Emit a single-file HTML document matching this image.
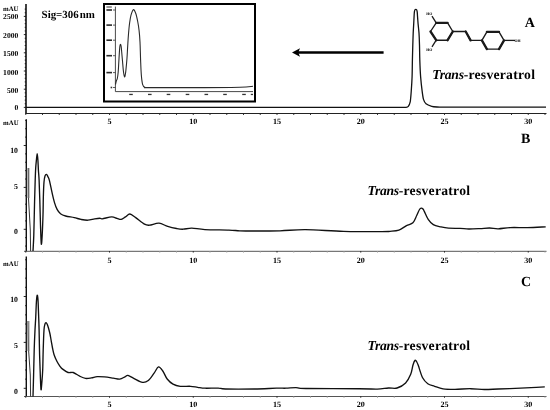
<!DOCTYPE html>
<html><head><meta charset="utf-8"><title>HPLC chromatograms</title>
<style>
html,body{margin:0;padding:0;background:#fff;}
body{width:550px;height:410px;overflow:hidden;font-family:"Liberation Serif",serif;}
svg{display:block;filter:grayscale(1);}
</style></head>
<body>
<svg width="550" height="410" viewBox="0 0 550 410" text-rendering="geometricPrecision">
<rect width="550" height="410" fill="#fff"/>
<line x1="26" y1="4" x2="26" y2="113.5" stroke="#111" stroke-width="1.6"/>
<line x1="23.80" y1="107.40" x2="26" y2="107.40" stroke="#111" stroke-width="0.9"/>
<line x1="24.70" y1="103.76" x2="26" y2="103.76" stroke="#111" stroke-width="0.9"/>
<line x1="24.70" y1="100.12" x2="26" y2="100.12" stroke="#111" stroke-width="0.9"/>
<line x1="24.70" y1="96.48" x2="26" y2="96.48" stroke="#111" stroke-width="0.9"/>
<line x1="24.70" y1="92.84" x2="26" y2="92.84" stroke="#111" stroke-width="0.9"/>
<line x1="23.80" y1="89.20" x2="26" y2="89.20" stroke="#111" stroke-width="0.9"/>
<line x1="24.70" y1="85.56" x2="26" y2="85.56" stroke="#111" stroke-width="0.9"/>
<line x1="24.70" y1="81.92" x2="26" y2="81.92" stroke="#111" stroke-width="0.9"/>
<line x1="24.70" y1="78.28" x2="26" y2="78.28" stroke="#111" stroke-width="0.9"/>
<line x1="24.70" y1="74.64" x2="26" y2="74.64" stroke="#111" stroke-width="0.9"/>
<line x1="23.80" y1="71.00" x2="26" y2="71.00" stroke="#111" stroke-width="0.9"/>
<line x1="24.70" y1="67.36" x2="26" y2="67.36" stroke="#111" stroke-width="0.9"/>
<line x1="24.70" y1="63.72" x2="26" y2="63.72" stroke="#111" stroke-width="0.9"/>
<line x1="24.70" y1="60.08" x2="26" y2="60.08" stroke="#111" stroke-width="0.9"/>
<line x1="24.70" y1="56.44" x2="26" y2="56.44" stroke="#111" stroke-width="0.9"/>
<line x1="23.80" y1="52.80" x2="26" y2="52.80" stroke="#111" stroke-width="0.9"/>
<line x1="24.70" y1="49.16" x2="26" y2="49.16" stroke="#111" stroke-width="0.9"/>
<line x1="24.70" y1="45.52" x2="26" y2="45.52" stroke="#111" stroke-width="0.9"/>
<line x1="24.70" y1="41.88" x2="26" y2="41.88" stroke="#111" stroke-width="0.9"/>
<line x1="24.70" y1="38.24" x2="26" y2="38.24" stroke="#111" stroke-width="0.9"/>
<line x1="23.80" y1="34.60" x2="26" y2="34.60" stroke="#111" stroke-width="0.9"/>
<line x1="24.70" y1="30.96" x2="26" y2="30.96" stroke="#111" stroke-width="0.9"/>
<line x1="24.70" y1="27.32" x2="26" y2="27.32" stroke="#111" stroke-width="0.9"/>
<line x1="24.70" y1="23.68" x2="26" y2="23.68" stroke="#111" stroke-width="0.9"/>
<line x1="24.70" y1="20.04" x2="26" y2="20.04" stroke="#111" stroke-width="0.9"/>
<line x1="23.80" y1="16.40" x2="26" y2="16.40" stroke="#111" stroke-width="0.9"/>
<line x1="24.70" y1="12.76" x2="26" y2="12.76" stroke="#111" stroke-width="0.9"/>
<line x1="24.70" y1="9.12" x2="26" y2="9.12" stroke="#111" stroke-width="0.9"/>
<line x1="25.2" y1="113.5" x2="546.5" y2="113.5" stroke="#222" stroke-width="1.1"/>
<line x1="25.75" y1="113.5" x2="25.75" y2="115" stroke="#222" stroke-width="0.9"/>
<line x1="42.50" y1="113.5" x2="42.50" y2="115" stroke="#222" stroke-width="0.9"/>
<line x1="59.25" y1="113.5" x2="59.25" y2="115" stroke="#222" stroke-width="0.9"/>
<line x1="76.00" y1="113.5" x2="76.00" y2="115" stroke="#222" stroke-width="0.9"/>
<line x1="92.75" y1="113.5" x2="92.75" y2="115" stroke="#222" stroke-width="0.9"/>
<line x1="109.50" y1="113.5" x2="109.50" y2="115" stroke="#222" stroke-width="0.9"/>
<line x1="126.25" y1="113.5" x2="126.25" y2="115" stroke="#222" stroke-width="0.9"/>
<line x1="143.00" y1="113.5" x2="143.00" y2="115" stroke="#222" stroke-width="0.9"/>
<line x1="159.75" y1="113.5" x2="159.75" y2="115" stroke="#222" stroke-width="0.9"/>
<line x1="176.50" y1="113.5" x2="176.50" y2="115" stroke="#222" stroke-width="0.9"/>
<line x1="193.25" y1="113.5" x2="193.25" y2="115" stroke="#222" stroke-width="0.9"/>
<line x1="210.00" y1="113.5" x2="210.00" y2="115" stroke="#222" stroke-width="0.9"/>
<line x1="226.75" y1="113.5" x2="226.75" y2="115" stroke="#222" stroke-width="0.9"/>
<line x1="243.50" y1="113.5" x2="243.50" y2="115" stroke="#222" stroke-width="0.9"/>
<line x1="260.25" y1="113.5" x2="260.25" y2="115" stroke="#222" stroke-width="0.9"/>
<line x1="277.00" y1="113.5" x2="277.00" y2="115" stroke="#222" stroke-width="0.9"/>
<line x1="293.75" y1="113.5" x2="293.75" y2="115" stroke="#222" stroke-width="0.9"/>
<line x1="310.50" y1="113.5" x2="310.50" y2="115" stroke="#222" stroke-width="0.9"/>
<line x1="327.25" y1="113.5" x2="327.25" y2="115" stroke="#222" stroke-width="0.9"/>
<line x1="344.00" y1="113.5" x2="344.00" y2="115" stroke="#222" stroke-width="0.9"/>
<line x1="360.75" y1="113.5" x2="360.75" y2="115" stroke="#222" stroke-width="0.9"/>
<line x1="377.50" y1="113.5" x2="377.50" y2="115" stroke="#222" stroke-width="0.9"/>
<line x1="394.25" y1="113.5" x2="394.25" y2="115" stroke="#222" stroke-width="0.9"/>
<line x1="411.00" y1="113.5" x2="411.00" y2="115" stroke="#222" stroke-width="0.9"/>
<line x1="427.75" y1="113.5" x2="427.75" y2="115" stroke="#222" stroke-width="0.9"/>
<line x1="444.50" y1="113.5" x2="444.50" y2="115" stroke="#222" stroke-width="0.9"/>
<line x1="461.25" y1="113.5" x2="461.25" y2="115" stroke="#222" stroke-width="0.9"/>
<line x1="478.00" y1="113.5" x2="478.00" y2="115" stroke="#222" stroke-width="0.9"/>
<line x1="494.75" y1="113.5" x2="494.75" y2="115" stroke="#222" stroke-width="0.9"/>
<line x1="511.50" y1="113.5" x2="511.50" y2="115" stroke="#222" stroke-width="0.9"/>
<line x1="528.25" y1="113.5" x2="528.25" y2="115" stroke="#222" stroke-width="0.9"/>
<line x1="545.00" y1="113.5" x2="545.00" y2="115" stroke="#222" stroke-width="0.9"/>
<text x="18.5" y="10.9" font-family="Liberation Serif" font-weight="bold" font-size="6.8" text-anchor="end">mAU</text>
<text x="18.3" y="19.2" font-family="Liberation Serif" font-weight="bold" font-size="7.6" text-anchor="end">2500</text>
<text x="18.3" y="38.1" font-family="Liberation Serif" font-weight="bold" font-size="7.6" text-anchor="end">2000</text>
<text x="18.3" y="56.0" font-family="Liberation Serif" font-weight="bold" font-size="7.6" text-anchor="end">1500</text>
<text x="18.3" y="74.5" font-family="Liberation Serif" font-weight="bold" font-size="7.6" text-anchor="end">1000</text>
<text x="18.3" y="93.1" font-family="Liberation Serif" font-weight="bold" font-size="7.6" text-anchor="end">500</text>
<text x="18.3" y="110.2" font-family="Liberation Serif" font-weight="bold" font-size="7.6" text-anchor="end">0</text>
<text x="109.50" y="123.8" font-family="Liberation Serif" font-weight="bold" font-size="8.1" text-anchor="middle">5</text>
<text x="193.25" y="123.8" font-family="Liberation Serif" font-weight="bold" font-size="8.1" text-anchor="middle">10</text>
<text x="277.00" y="123.8" font-family="Liberation Serif" font-weight="bold" font-size="8.1" text-anchor="middle">15</text>
<text x="360.75" y="123.8" font-family="Liberation Serif" font-weight="bold" font-size="8.1" text-anchor="middle">20</text>
<text x="444.50" y="123.8" font-family="Liberation Serif" font-weight="bold" font-size="8.1" text-anchor="middle">25</text>
<text x="528.25" y="123.8" font-family="Liberation Serif" font-weight="bold" font-size="8.1" text-anchor="middle">30</text>
<path d="M26.00,107.40 C57.97,107.40 258.70,107.40 300.00,107.40 C341.30,107.40 368.80,107.40 380.00,107.40 C391.20,107.40 393.32,107.40 396.00,107.40 C398.68,107.40 401.83,107.41 403.00,107.40 C404.17,107.39 405.38,107.43 406.00,107.30 C406.62,107.17 407.81,106.93 408.30,106.30 C408.79,105.67 409.86,103.60 410.20,101.90 C410.54,100.20 410.98,94.66 411.20,91.70 C411.42,88.74 411.96,80.20 412.10,76.50 C412.24,72.80 412.32,63.67 412.40,60.00 C412.48,56.33 412.71,48.15 412.80,45.00 C412.89,41.85 413.09,35.45 413.20,33.00 C413.31,30.55 413.59,25.98 413.70,24.00 C413.81,22.02 414.02,17.42 414.10,16.00 C414.18,14.58 414.29,12.52 414.40,11.80 C414.50,11.08 414.84,10.09 415.00,9.80 C415.16,9.51 415.61,9.30 415.80,9.30 C415.99,9.30 416.44,9.51 416.60,9.80 C416.76,10.09 417.09,11.08 417.20,11.80 C417.31,12.52 417.39,14.58 417.50,16.00 C417.61,17.42 417.93,22.02 418.10,24.00 C418.28,25.98 418.84,30.55 419.00,33.00 C419.16,35.45 419.41,41.85 419.50,45.00 C419.59,48.15 419.67,56.33 419.80,60.00 C419.93,63.67 420.32,72.80 420.60,76.50 C420.88,80.20 421.86,89.03 422.20,91.70 C422.54,94.37 423.06,97.99 423.50,99.40 C423.94,100.81 425.04,103.00 426.00,103.80 C426.96,104.60 430.42,105.93 431.70,106.30 C432.98,106.67 435.56,106.89 437.00,107.00 C438.44,107.11 441.32,107.18 444.00,107.20 C446.68,107.22 448.10,107.20 460.00,107.20 C471.90,107.20 535.97,107.20 546.00,107.20" fill="none" stroke="#111" stroke-width="1.3"/>
<rect x="104" y="4" width="151" height="97.5" fill="none" stroke="#000" stroke-width="2"/>
<line x1="115.4" y1="6.6" x2="115.4" y2="91.6" stroke="#333" stroke-width="0.9"/>
<line x1="115.4" y1="91.6" x2="253" y2="91.6" stroke="#333" stroke-width="0.9"/>
<line x1="113" y1="87.50" x2="115.4" y2="87.50" stroke="#333" stroke-width="0.8"/>
<rect x="110.6" y="86.70" width="1.6" height="1.6" fill="#333"/>
<line x1="113" y1="72.60" x2="115.4" y2="72.60" stroke="#333" stroke-width="0.8"/>
<rect x="106.4" y="71.80" width="5.6" height="1.6" fill="#2a2a2a"/>
<line x1="113" y1="55.70" x2="115.4" y2="55.70" stroke="#333" stroke-width="0.8"/>
<rect x="106.4" y="54.90" width="5.6" height="1.6" fill="#2a2a2a"/>
<line x1="113" y1="40.20" x2="115.4" y2="40.20" stroke="#333" stroke-width="0.8"/>
<rect x="106.4" y="39.40" width="5.6" height="1.6" fill="#2a2a2a"/>
<line x1="113" y1="25.10" x2="115.4" y2="25.10" stroke="#333" stroke-width="0.8"/>
<rect x="106.4" y="24.30" width="5.6" height="1.6" fill="#2a2a2a"/>
<line x1="113" y1="10.00" x2="115.4" y2="10.00" stroke="#333" stroke-width="0.8"/>
<rect x="106.4" y="9.20" width="5.6" height="1.6" fill="#2a2a2a"/>
<rect x="106.4" y="6.4" width="5.4" height="1.2" fill="#555"/>
<rect x="129.20" y="93.8" width="3.6" height="1.3" fill="#333"/>
<rect x="148.00" y="93.8" width="3.6" height="1.3" fill="#333"/>
<rect x="166.70" y="93.8" width="3.6" height="1.3" fill="#333"/>
<rect x="185.70" y="93.8" width="3.6" height="1.3" fill="#333"/>
<rect x="204.50" y="93.8" width="3.6" height="1.3" fill="#333"/>
<rect x="223.20" y="93.8" width="3.6" height="1.3" fill="#333"/>
<rect x="242.20" y="93.8" width="3.6" height="1.3" fill="#333"/>
<rect x="250.8" y="93.8" width="2.2" height="1.3" fill="#333"/>
<path d="M115.50,84.50 C115.63,83.92 116.00,82.00 116.30,81.00 C116.60,80.00 116.98,80.00 117.30,78.50 C117.62,77.00 117.95,74.75 118.20,72.00 C118.45,69.25 118.60,65.33 118.80,62.00 C119.00,58.67 119.22,54.67 119.40,52.00 C119.58,49.33 119.72,47.30 119.90,46.00 C120.08,44.70 120.30,44.20 120.50,44.20 C120.70,44.20 120.90,44.70 121.10,46.00 C121.30,47.30 121.47,49.50 121.70,52.00 C121.93,54.50 122.22,57.83 122.50,61.00 C122.78,64.17 123.07,68.37 123.40,71.00 C123.73,73.63 124.18,76.22 124.50,76.80 C124.82,77.38 125.07,75.60 125.30,74.50 C125.53,73.40 125.62,72.95 125.90,70.20 C126.18,67.45 126.70,62.03 127.00,58.00 C127.30,53.97 127.45,50.00 127.70,46.00 C127.95,42.00 128.18,37.83 128.50,34.00 C128.82,30.17 129.18,26.13 129.60,23.00 C130.02,19.87 130.38,17.42 131.00,15.20 C131.62,12.98 132.52,10.03 133.30,9.70 C134.08,9.37 134.97,11.23 135.70,13.20 C136.43,15.17 137.13,18.60 137.70,21.50 C138.27,24.40 138.72,27.18 139.10,30.60 C139.48,34.02 139.75,37.10 140.00,42.00 C140.25,46.90 140.38,54.57 140.60,60.00 C140.82,65.43 140.97,70.55 141.30,74.60 C141.63,78.65 142.02,82.18 142.60,84.30 C143.18,86.42 143.57,86.75 144.80,87.30 C146.03,87.85 140.80,87.55 150.00,87.60 C159.20,87.65 185.00,87.65 200.00,87.60 C215.00,87.55 231.17,87.52 240.00,87.30 C248.83,87.08 250.83,86.47 253.00,86.30" fill="none" stroke="#2a2a2a" stroke-width="1.1"/>
<text x="41.6" y="17.9" font-family="Liberation Serif" font-weight="bold" font-size="10.9">Sig=306<tspan dx="1">nm</tspan></text>
<line x1="383.6" y1="52.5" x2="297" y2="52.5" stroke="#000" stroke-width="2.6"/>
<path d="M292,52.5 L300,48.3 L298.3,52.5 L300,56.7 Z" fill="#000"/>
<path d="M436.20,22.90 L447.60,22.90 L452.80,31.50 L447.60,40.20 L436.20,40.20 L430.50,31.50 Z" fill="none" stroke="#1a1a1a" stroke-width="1.35" stroke-linejoin="round"/>
<line x1="436.2" y1="22.9" x2="447.6" y2="22.9" stroke="#1a1a1a" stroke-width="2.3" stroke-linecap="round"/>
<line x1="452.8" y1="31.5" x2="447.6" y2="40.2" stroke="#1a1a1a" stroke-width="2.3" stroke-linecap="round"/>
<line x1="436.2" y1="40.2" x2="430.5" y2="31.5" stroke="#1a1a1a" stroke-width="2.3" stroke-linecap="round"/>
<path d="M486.90,31.80 L499.00,31.80 L504.00,40.40 L499.00,49.10 L486.90,49.10 L481.90,40.40 Z" fill="none" stroke="#1a1a1a" stroke-width="1.35" stroke-linejoin="round"/>
<line x1="486.9" y1="31.8" x2="499" y2="31.8" stroke="#1a1a1a" stroke-width="2.3" stroke-linecap="round"/>
<line x1="504" y1="40.4" x2="499" y2="49.1" stroke="#1a1a1a" stroke-width="2.3" stroke-linecap="round"/>
<line x1="486.9" y1="49.1" x2="481.9" y2="40.4" stroke="#1a1a1a" stroke-width="2.3" stroke-linecap="round"/>
<path d="M452.8,31.5 L465.7,31.5 L470.6,40.4 L481.9,40.4" fill="none" stroke="#1a1a1a" stroke-width="1.4" stroke-linejoin="round"/>
<line x1="465.7" y1="31.5" x2="470.6" y2="40.4" stroke="#1a1a1a" stroke-width="2.3" stroke-linecap="round"/>
<line x1="436.2" y1="22.9" x2="432" y2="16.2" stroke="#1a1a1a" stroke-width="1.3"/>
<line x1="436.2" y1="40.2" x2="432" y2="46.8" stroke="#1a1a1a" stroke-width="1.3"/>
<line x1="504" y1="40.4" x2="515" y2="40.4" stroke="#1a1a1a" stroke-width="1.3"/>
<text x="426.2" y="15" font-family="Liberation Serif" font-weight="bold" font-size="3.9">HO</text>
<text x="426.2" y="50.8" font-family="Liberation Serif" font-weight="bold" font-size="3.9">HO</text>
<text x="514.6" y="42" font-family="Liberation Serif" font-weight="bold" font-size="3.9">OH</text>
<text x="524.8" y="27" font-family="Liberation Serif" font-weight="bold" font-size="14">A</text>
<text x="432.3" y="78.6" font-family="Liberation Serif" font-weight="bold" font-size="13.65"><tspan font-style="italic" letter-spacing="-0.3">Trans</tspan><tspan letter-spacing="0.26">-resveratrol</tspan></text>
<line x1="26.3" y1="119.3" x2="26.3" y2="251.3" stroke="#111" stroke-width="1.4"/>
<line x1="24" y1="251.3" x2="546.5" y2="251.3" stroke="#555" stroke-width="1"/>
<line x1="23.70" y1="229.30" x2="26.3" y2="229.30" stroke="#111" stroke-width="0.9"/>
<line x1="25.10" y1="220.92" x2="26.3" y2="220.92" stroke="#111" stroke-width="0.9"/>
<line x1="25.10" y1="212.54" x2="26.3" y2="212.54" stroke="#111" stroke-width="0.9"/>
<line x1="25.10" y1="204.16" x2="26.3" y2="204.16" stroke="#111" stroke-width="0.9"/>
<line x1="25.10" y1="195.78" x2="26.3" y2="195.78" stroke="#111" stroke-width="0.9"/>
<line x1="23.70" y1="187.40" x2="26.3" y2="187.40" stroke="#111" stroke-width="0.9"/>
<line x1="25.10" y1="179.02" x2="26.3" y2="179.02" stroke="#111" stroke-width="0.9"/>
<line x1="25.10" y1="170.64" x2="26.3" y2="170.64" stroke="#111" stroke-width="0.9"/>
<line x1="25.10" y1="162.26" x2="26.3" y2="162.26" stroke="#111" stroke-width="0.9"/>
<line x1="25.10" y1="153.88" x2="26.3" y2="153.88" stroke="#111" stroke-width="0.9"/>
<line x1="23.70" y1="145.50" x2="26.3" y2="145.50" stroke="#111" stroke-width="0.9"/>
<line x1="25.10" y1="137.12" x2="26.3" y2="137.12" stroke="#111" stroke-width="0.9"/>
<line x1="25.10" y1="128.74" x2="26.3" y2="128.74" stroke="#111" stroke-width="0.9"/>
<line x1="25.10" y1="120.36" x2="26.3" y2="120.36" stroke="#111" stroke-width="0.9"/>
<line x1="25.1" y1="237.68" x2="26.3" y2="237.68" stroke="#111" stroke-width="0.9"/>
<line x1="25.1" y1="246.06" x2="26.3" y2="246.06" stroke="#111" stroke-width="0.9"/>
<line x1="25.75" y1="251.0" x2="25.75" y2="252.60000000000002" stroke="#222" stroke-width="0.9"/>
<line x1="42.50" y1="251.0" x2="42.50" y2="252.60000000000002" stroke="#999" stroke-width="0.9"/>
<line x1="59.25" y1="251.0" x2="59.25" y2="252.60000000000002" stroke="#999" stroke-width="0.9"/>
<line x1="76.00" y1="251.0" x2="76.00" y2="252.60000000000002" stroke="#999" stroke-width="0.9"/>
<line x1="92.75" y1="251.0" x2="92.75" y2="252.60000000000002" stroke="#999" stroke-width="0.9"/>
<line x1="109.50" y1="251.0" x2="109.50" y2="252.60000000000002" stroke="#222" stroke-width="0.9"/>
<line x1="126.25" y1="251.0" x2="126.25" y2="252.60000000000002" stroke="#999" stroke-width="0.9"/>
<line x1="143.00" y1="251.0" x2="143.00" y2="252.60000000000002" stroke="#999" stroke-width="0.9"/>
<line x1="159.75" y1="251.0" x2="159.75" y2="252.60000000000002" stroke="#999" stroke-width="0.9"/>
<line x1="176.50" y1="251.0" x2="176.50" y2="252.60000000000002" stroke="#999" stroke-width="0.9"/>
<line x1="193.25" y1="251.0" x2="193.25" y2="252.60000000000002" stroke="#222" stroke-width="0.9"/>
<line x1="210.00" y1="251.0" x2="210.00" y2="252.60000000000002" stroke="#999" stroke-width="0.9"/>
<line x1="226.75" y1="251.0" x2="226.75" y2="252.60000000000002" stroke="#999" stroke-width="0.9"/>
<line x1="243.50" y1="251.0" x2="243.50" y2="252.60000000000002" stroke="#999" stroke-width="0.9"/>
<line x1="260.25" y1="251.0" x2="260.25" y2="252.60000000000002" stroke="#999" stroke-width="0.9"/>
<line x1="277.00" y1="251.0" x2="277.00" y2="252.60000000000002" stroke="#222" stroke-width="0.9"/>
<line x1="293.75" y1="251.0" x2="293.75" y2="252.60000000000002" stroke="#999" stroke-width="0.9"/>
<line x1="310.50" y1="251.0" x2="310.50" y2="252.60000000000002" stroke="#999" stroke-width="0.9"/>
<line x1="327.25" y1="251.0" x2="327.25" y2="252.60000000000002" stroke="#999" stroke-width="0.9"/>
<line x1="344.00" y1="251.0" x2="344.00" y2="252.60000000000002" stroke="#999" stroke-width="0.9"/>
<line x1="360.75" y1="251.0" x2="360.75" y2="252.60000000000002" stroke="#222" stroke-width="0.9"/>
<line x1="377.50" y1="251.0" x2="377.50" y2="252.60000000000002" stroke="#999" stroke-width="0.9"/>
<line x1="394.25" y1="251.0" x2="394.25" y2="252.60000000000002" stroke="#999" stroke-width="0.9"/>
<line x1="411.00" y1="251.0" x2="411.00" y2="252.60000000000002" stroke="#999" stroke-width="0.9"/>
<line x1="427.75" y1="251.0" x2="427.75" y2="252.60000000000002" stroke="#999" stroke-width="0.9"/>
<line x1="444.50" y1="251.0" x2="444.50" y2="252.60000000000002" stroke="#222" stroke-width="0.9"/>
<line x1="461.25" y1="251.0" x2="461.25" y2="252.60000000000002" stroke="#999" stroke-width="0.9"/>
<line x1="478.00" y1="251.0" x2="478.00" y2="252.60000000000002" stroke="#999" stroke-width="0.9"/>
<line x1="494.75" y1="251.0" x2="494.75" y2="252.60000000000002" stroke="#999" stroke-width="0.9"/>
<line x1="511.50" y1="251.0" x2="511.50" y2="252.60000000000002" stroke="#999" stroke-width="0.9"/>
<line x1="528.25" y1="251.0" x2="528.25" y2="252.60000000000002" stroke="#222" stroke-width="0.9"/>
<line x1="545.00" y1="251.0" x2="545.00" y2="252.60000000000002" stroke="#999" stroke-width="0.9"/>
<text x="18.6" y="124.6" font-family="Liberation Serif" font-weight="bold" font-size="6.8" text-anchor="end">mAU</text>
<text x="18" y="152.5" font-family="Liberation Serif" font-weight="bold" font-size="7.8" text-anchor="end">10</text>
<text x="18" y="189.3" font-family="Liberation Serif" font-weight="bold" font-size="7.8" text-anchor="end">5</text>
<text x="18" y="234.2" font-family="Liberation Serif" font-weight="bold" font-size="7.8" text-anchor="end">0</text>
<text x="109.50" y="262.6" font-family="Liberation Serif" font-weight="bold" font-size="8.1" text-anchor="middle">5</text>
<text x="193.25" y="262.6" font-family="Liberation Serif" font-weight="bold" font-size="8.1" text-anchor="middle">10</text>
<text x="277.00" y="262.6" font-family="Liberation Serif" font-weight="bold" font-size="8.1" text-anchor="middle">15</text>
<text x="360.75" y="262.6" font-family="Liberation Serif" font-weight="bold" font-size="8.1" text-anchor="middle">20</text>
<text x="444.50" y="262.6" font-family="Liberation Serif" font-weight="bold" font-size="8.1" text-anchor="middle">25</text>
<text x="528.25" y="262.6" font-family="Liberation Serif" font-weight="bold" font-size="8.1" text-anchor="middle">30</text>
<text x="521" y="142.7" font-family="Liberation Serif" font-weight="bold" font-size="14">B</text>
<text x="367.4" y="195.1" font-family="Liberation Serif" font-weight="bold" font-size="13.65"><tspan font-style="italic" letter-spacing="-0.3">Trans</tspan><tspan letter-spacing="0.26">-resveratrol</tspan></text>
<line x1="26.3" y1="256.6" x2="26.3" y2="396.5" stroke="#111" stroke-width="1.4"/>
<line x1="24" y1="396.5" x2="546.5" y2="396.5" stroke="#555" stroke-width="1"/>
<line x1="23.70" y1="388.30" x2="26.3" y2="388.30" stroke="#111" stroke-width="0.9"/>
<line x1="25.10" y1="379.12" x2="26.3" y2="379.12" stroke="#111" stroke-width="0.9"/>
<line x1="25.10" y1="369.94" x2="26.3" y2="369.94" stroke="#111" stroke-width="0.9"/>
<line x1="25.10" y1="360.76" x2="26.3" y2="360.76" stroke="#111" stroke-width="0.9"/>
<line x1="25.10" y1="351.58" x2="26.3" y2="351.58" stroke="#111" stroke-width="0.9"/>
<line x1="23.70" y1="342.40" x2="26.3" y2="342.40" stroke="#111" stroke-width="0.9"/>
<line x1="25.10" y1="333.22" x2="26.3" y2="333.22" stroke="#111" stroke-width="0.9"/>
<line x1="25.10" y1="324.04" x2="26.3" y2="324.04" stroke="#111" stroke-width="0.9"/>
<line x1="25.10" y1="314.86" x2="26.3" y2="314.86" stroke="#111" stroke-width="0.9"/>
<line x1="25.10" y1="305.68" x2="26.3" y2="305.68" stroke="#111" stroke-width="0.9"/>
<line x1="23.70" y1="296.50" x2="26.3" y2="296.50" stroke="#111" stroke-width="0.9"/>
<line x1="25.10" y1="287.32" x2="26.3" y2="287.32" stroke="#111" stroke-width="0.9"/>
<line x1="25.10" y1="278.14" x2="26.3" y2="278.14" stroke="#111" stroke-width="0.9"/>
<line x1="25.10" y1="268.96" x2="26.3" y2="268.96" stroke="#111" stroke-width="0.9"/>
<line x1="25.10" y1="259.78" x2="26.3" y2="259.78" stroke="#111" stroke-width="0.9"/>
<line x1="25.75" y1="396.2" x2="25.75" y2="397.8" stroke="#222" stroke-width="0.9"/>
<line x1="42.50" y1="396.2" x2="42.50" y2="397.8" stroke="#999" stroke-width="0.9"/>
<line x1="59.25" y1="396.2" x2="59.25" y2="397.8" stroke="#999" stroke-width="0.9"/>
<line x1="76.00" y1="396.2" x2="76.00" y2="397.8" stroke="#999" stroke-width="0.9"/>
<line x1="92.75" y1="396.2" x2="92.75" y2="397.8" stroke="#999" stroke-width="0.9"/>
<line x1="109.50" y1="396.2" x2="109.50" y2="397.8" stroke="#222" stroke-width="0.9"/>
<line x1="126.25" y1="396.2" x2="126.25" y2="397.8" stroke="#999" stroke-width="0.9"/>
<line x1="143.00" y1="396.2" x2="143.00" y2="397.8" stroke="#999" stroke-width="0.9"/>
<line x1="159.75" y1="396.2" x2="159.75" y2="397.8" stroke="#999" stroke-width="0.9"/>
<line x1="176.50" y1="396.2" x2="176.50" y2="397.8" stroke="#999" stroke-width="0.9"/>
<line x1="193.25" y1="396.2" x2="193.25" y2="397.8" stroke="#222" stroke-width="0.9"/>
<line x1="210.00" y1="396.2" x2="210.00" y2="397.8" stroke="#999" stroke-width="0.9"/>
<line x1="226.75" y1="396.2" x2="226.75" y2="397.8" stroke="#999" stroke-width="0.9"/>
<line x1="243.50" y1="396.2" x2="243.50" y2="397.8" stroke="#999" stroke-width="0.9"/>
<line x1="260.25" y1="396.2" x2="260.25" y2="397.8" stroke="#999" stroke-width="0.9"/>
<line x1="277.00" y1="396.2" x2="277.00" y2="397.8" stroke="#222" stroke-width="0.9"/>
<line x1="293.75" y1="396.2" x2="293.75" y2="397.8" stroke="#999" stroke-width="0.9"/>
<line x1="310.50" y1="396.2" x2="310.50" y2="397.8" stroke="#999" stroke-width="0.9"/>
<line x1="327.25" y1="396.2" x2="327.25" y2="397.8" stroke="#999" stroke-width="0.9"/>
<line x1="344.00" y1="396.2" x2="344.00" y2="397.8" stroke="#999" stroke-width="0.9"/>
<line x1="360.75" y1="396.2" x2="360.75" y2="397.8" stroke="#222" stroke-width="0.9"/>
<line x1="377.50" y1="396.2" x2="377.50" y2="397.8" stroke="#999" stroke-width="0.9"/>
<line x1="394.25" y1="396.2" x2="394.25" y2="397.8" stroke="#999" stroke-width="0.9"/>
<line x1="411.00" y1="396.2" x2="411.00" y2="397.8" stroke="#999" stroke-width="0.9"/>
<line x1="427.75" y1="396.2" x2="427.75" y2="397.8" stroke="#999" stroke-width="0.9"/>
<line x1="444.50" y1="396.2" x2="444.50" y2="397.8" stroke="#222" stroke-width="0.9"/>
<line x1="461.25" y1="396.2" x2="461.25" y2="397.8" stroke="#999" stroke-width="0.9"/>
<line x1="478.00" y1="396.2" x2="478.00" y2="397.8" stroke="#999" stroke-width="0.9"/>
<line x1="494.75" y1="396.2" x2="494.75" y2="397.8" stroke="#999" stroke-width="0.9"/>
<line x1="511.50" y1="396.2" x2="511.50" y2="397.8" stroke="#999" stroke-width="0.9"/>
<line x1="528.25" y1="396.2" x2="528.25" y2="397.8" stroke="#222" stroke-width="0.9"/>
<line x1="545.00" y1="396.2" x2="545.00" y2="397.8" stroke="#999" stroke-width="0.9"/>
<text x="18.6" y="265.7" font-family="Liberation Serif" font-weight="bold" font-size="6.8" text-anchor="end">mAU</text>
<text x="18" y="302.4" font-family="Liberation Serif" font-weight="bold" font-size="7.8" text-anchor="end">10</text>
<text x="18" y="348.4" font-family="Liberation Serif" font-weight="bold" font-size="7.8" text-anchor="end">5</text>
<text x="18" y="393.5" font-family="Liberation Serif" font-weight="bold" font-size="7.8" text-anchor="end">0</text>
<text x="109.50" y="406.8" font-family="Liberation Serif" font-weight="bold" font-size="8.1" text-anchor="middle">5</text>
<text x="193.25" y="406.8" font-family="Liberation Serif" font-weight="bold" font-size="8.1" text-anchor="middle">10</text>
<text x="277.00" y="406.8" font-family="Liberation Serif" font-weight="bold" font-size="8.1" text-anchor="middle">15</text>
<text x="360.75" y="406.8" font-family="Liberation Serif" font-weight="bold" font-size="8.1" text-anchor="middle">20</text>
<text x="444.50" y="406.8" font-family="Liberation Serif" font-weight="bold" font-size="8.1" text-anchor="middle">25</text>
<text x="528.25" y="406.8" font-family="Liberation Serif" font-weight="bold" font-size="8.1" text-anchor="middle">30</text>
<text x="521" y="285.6" font-family="Liberation Serif" font-weight="bold" font-size="14">C</text>
<text x="367.4" y="350.1" font-family="Liberation Serif" font-weight="bold" font-size="13.65"><tspan font-style="italic" letter-spacing="-0.3">Trans</tspan><tspan letter-spacing="0.26">-resveratrol</tspan></text>
<path d="M33.00,251.00 C33.13,248.33 33.55,242.67 33.80,235.00 C34.05,227.33 34.27,214.17 34.50,205.00 C34.73,195.83 35.00,186.17 35.20,180.00 C35.40,173.83 35.50,171.33 35.70,168.00 C35.90,164.67 36.15,162.40 36.40,160.00 C36.65,157.60 36.95,153.60 37.20,153.60 C37.45,153.60 37.70,157.27 37.90,160.00 C38.10,162.73 38.20,166.67 38.40,170.00 C38.60,173.33 38.87,175.00 39.10,180.00 C39.33,185.00 39.57,192.50 39.80,200.00 C40.03,207.50 40.25,217.67 40.50,225.00 C40.75,232.33 41.02,242.33 41.30,244.00 C41.58,245.67 41.92,239.83 42.20,235.00 C42.48,230.17 42.80,221.67 43.00,215.00 C43.20,208.33 43.23,200.50 43.40,195.00 C43.57,189.50 43.73,185.17 44.00,182.00 C44.27,178.83 44.58,177.27 45.00,176.00 C45.42,174.73 46.03,174.32 46.50,174.40 C46.97,174.48 47.32,175.50 47.80,176.50 C48.28,177.50 48.70,177.75 49.40,180.40 C50.10,183.05 51.15,188.70 52.00,192.40 C52.85,196.10 53.65,199.77 54.50,202.60 C55.35,205.43 56.10,207.55 57.10,209.40 C58.10,211.25 59.08,212.60 60.50,213.70 C61.92,214.80 63.32,215.35 65.60,216.00 C67.88,216.65 71.63,217.03 74.20,217.60 C76.77,218.17 78.72,218.97 81.00,219.40 C83.28,219.83 85.62,220.30 87.90,220.20 C90.18,220.10 92.72,219.13 94.70,218.80 C96.68,218.47 98.53,218.20 99.80,218.20 C101.07,218.20 100.32,219.02 102.30,218.80 C104.28,218.58 109.25,216.97 111.70,216.90 C114.15,216.83 115.42,217.98 117.00,218.40 C118.58,218.82 119.78,219.65 121.20,219.40 C122.62,219.15 124.05,217.80 125.50,216.90 C126.95,216.00 128.20,213.88 129.90,214.00 C131.60,214.12 133.27,215.90 135.70,217.60 C138.13,219.30 142.20,222.93 144.50,224.20 C146.80,225.47 147.08,225.37 149.50,225.20 C151.92,225.03 155.97,223.00 159.00,223.20 C162.03,223.40 164.78,225.52 167.70,226.40 C170.62,227.28 173.93,228.03 176.50,228.50 C179.07,228.97 180.55,229.27 183.10,229.20 C185.65,229.13 188.17,228.03 191.80,228.10 C195.43,228.17 198.72,229.27 204.90,229.60 C211.08,229.93 223.08,229.90 228.90,230.10 C234.72,230.30 235.80,230.65 239.80,230.80 C243.80,230.95 246.20,231.00 252.90,231.00 C259.60,231.00 271.25,231.02 280.00,230.80 C288.75,230.58 294.80,229.62 305.40,229.70 C316.00,229.78 330.87,230.98 343.60,231.30 C356.33,231.62 374.07,231.60 381.80,231.60 C389.53,231.60 387.15,231.55 390.00,231.30 C392.85,231.05 396.15,231.05 398.90,230.10 C401.65,229.15 404.17,226.82 406.50,225.60 C408.83,224.38 411.20,224.48 412.90,222.80 C414.60,221.12 415.60,217.72 416.70,215.50 C417.80,213.28 418.75,210.73 419.50,209.50 C420.25,208.27 420.62,208.18 421.20,208.10 C421.78,208.02 422.47,208.42 423.00,209.00 C423.53,209.58 423.53,209.88 424.40,211.60 C425.27,213.32 426.72,217.13 428.20,219.30 C429.68,221.47 431.18,223.33 433.30,224.60 C435.42,225.87 438.37,226.30 440.90,226.90 C443.43,227.50 445.32,227.95 448.50,228.20 C451.68,228.45 456.62,228.27 460.00,228.40 C463.38,228.53 465.47,228.97 468.80,229.00 C472.13,229.03 476.55,228.77 480.00,228.60 C483.45,228.43 486.47,227.97 489.50,228.00 C492.53,228.03 494.73,228.87 498.20,228.80 C501.67,228.73 505.42,227.80 510.30,227.60 C515.18,227.40 521.60,227.73 527.50,227.60 C533.40,227.47 542.67,226.93 545.70,226.80" fill="none" stroke="#111" stroke-width="1.35"/>
<path d="M28.4,168 L28.6,200 L30.3,230 L30.6,251" fill="none" stroke="#333" stroke-width="1"/>
<rect x="26.8" y="168" width="3" height="30" fill="#888" opacity="0.55"/>
<path d="M33.00,396.50 C33.10,392.92 33.40,382.75 33.60,375.00 C33.80,367.25 33.97,357.50 34.20,350.00 C34.43,342.50 34.75,335.33 35.00,330.00 C35.25,324.67 35.47,322.67 35.70,318.00 C35.93,313.33 36.15,305.80 36.40,302.00 C36.65,298.20 36.93,295.53 37.20,295.20 C37.47,294.87 37.77,296.70 38.00,300.00 C38.23,303.30 38.42,310.00 38.60,315.00 C38.78,320.00 38.93,323.33 39.10,330.00 C39.27,336.67 39.40,347.50 39.60,355.00 C39.80,362.50 40.07,369.23 40.30,375.00 C40.53,380.77 40.75,388.27 41.00,389.60 C41.25,390.93 41.52,386.27 41.80,383.00 C42.08,379.73 42.47,375.50 42.70,370.00 C42.93,364.50 42.98,356.67 43.20,350.00 C43.42,343.33 43.70,334.33 44.00,330.00 C44.30,325.67 44.67,325.23 45.00,324.00 C45.33,322.77 45.63,322.55 46.00,322.60 C46.37,322.65 46.80,323.45 47.20,324.30 C47.60,325.15 47.93,326.08 48.40,327.70 C48.87,329.32 49.52,331.73 50.00,334.00 C50.48,336.27 50.88,338.97 51.30,341.30 C51.72,343.63 52.05,345.80 52.50,348.00 C52.95,350.20 53.25,352.25 54.00,354.50 C54.75,356.75 56.00,359.53 57.00,361.50 C58.00,363.47 59.12,365.07 60.00,366.30 C60.88,367.53 60.95,367.87 62.30,368.90 C63.65,369.93 66.28,371.90 68.10,372.50 C69.92,373.10 71.27,371.88 73.20,372.50 C75.13,373.12 77.65,375.22 79.70,376.20 C81.75,377.18 83.55,378.12 85.50,378.40 C87.45,378.68 89.45,378.20 91.40,377.90 C93.35,377.60 95.02,376.77 97.20,376.60 C99.38,376.43 101.83,376.65 104.50,376.90 C107.17,377.15 110.67,377.73 113.20,378.10 C115.73,378.47 117.73,379.32 119.70,379.10 C121.67,378.88 123.63,377.42 125.00,376.80 C126.37,376.18 126.45,375.15 127.90,375.40 C129.35,375.65 131.27,377.15 133.70,378.30 C136.13,379.45 140.07,381.93 142.50,382.30 C144.93,382.67 146.37,382.02 148.30,380.50 C150.23,378.98 152.40,375.47 154.10,373.20 C155.80,370.93 157.05,367.27 158.50,366.90 C159.95,366.53 161.35,368.98 162.80,371.00 C164.25,373.02 165.50,376.82 167.20,379.00 C168.90,381.18 170.82,382.88 173.00,384.10 C175.18,385.32 177.38,385.93 180.30,386.30 C183.22,386.67 187.60,386.13 190.50,386.30 C193.40,386.47 195.28,386.98 197.70,387.30 C200.12,387.62 201.58,388.07 205.00,388.20 C208.42,388.33 214.78,387.97 218.20,388.10 C221.62,388.23 219.45,388.85 225.50,389.00 C231.55,389.15 246.02,389.13 254.50,389.00 C262.98,388.87 271.15,388.33 276.40,388.20 C281.65,388.07 282.73,388.30 286.00,388.20 C289.27,388.10 292.67,387.55 296.00,387.60 C299.33,387.65 295.48,388.32 306.00,388.50 C316.52,388.68 347.22,388.60 359.10,388.70 C370.98,388.80 372.40,389.22 377.30,389.10 C382.20,388.98 385.20,388.18 388.50,388.00 C391.80,387.82 394.25,388.85 397.10,388.00 C399.95,387.15 403.33,385.18 405.60,382.90 C407.87,380.62 409.47,377.28 410.70,374.30 C411.93,371.32 412.28,367.32 413.00,365.00 C413.72,362.68 414.37,360.90 415.00,360.40 C415.63,359.90 416.23,361.10 416.80,362.00 C417.37,362.90 417.43,363.17 418.40,365.80 C419.37,368.43 421.03,374.82 422.60,377.80 C424.17,380.78 425.80,382.28 427.80,383.70 C429.80,385.12 432.05,385.45 434.60,386.30 C437.15,387.15 439.70,388.30 443.10,388.80 C446.50,389.30 450.43,389.32 455.00,389.30 C459.57,389.28 465.60,388.67 470.50,388.70 C475.40,388.73 479.78,389.45 484.40,389.50 C489.02,389.55 492.17,389.23 498.20,389.00 C504.23,388.77 514.27,388.38 520.60,388.10 C526.93,387.82 532.17,387.50 536.20,387.30 C540.23,387.10 543.37,386.97 544.80,386.90" fill="none" stroke="#111" stroke-width="1.35"/>
<path d="M28,321 L28.6,350 L30.3,375 L30.6,396.5" fill="none" stroke="#333" stroke-width="1"/>
<rect x="26.8" y="321" width="3" height="30" fill="#888" opacity="0.55"/>
</svg>
</body></html>
